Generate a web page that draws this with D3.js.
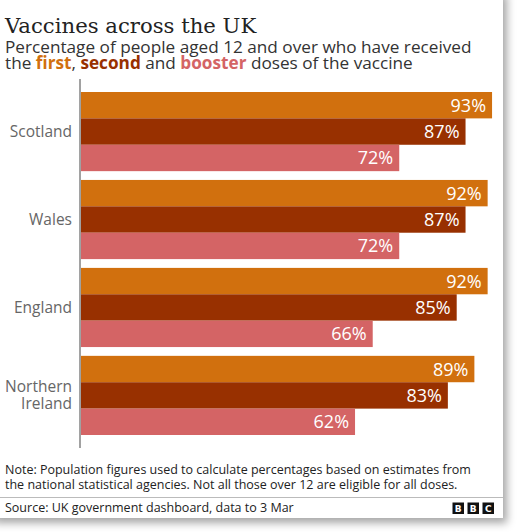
<!DOCTYPE html>
<html>
<head>
    <meta charset="utf-8">
    <script src="https://cdn.jsdelivr.net/npm/d3@7"></script>
    <style>
        * { margin: 0; padding: 0; }
        body { background: #fff; }
        svg { display: block; }
    </style>
</head>
<body>
    <svg id="chart" width="520" height="532"></svg>
    <script>
        var nations = ["Scotland", "Wales", "England", "Northern Ireland"];
        var doses = ["first", "second", "booster"];
        var firstDose = [93, 92, 92, 89];
        var secondDose = [87, 87, 85, 83];
        var boosterDose = [72, 72, 66, 62];
        var doseColors = ["#d1700e", "#983000", "#d46465"];

        var sans = "'Open Sans', 'Noto Sans', sans-serif";
        var svg = d3.select("#chart");

        // card with soft shadow on right / bottom
        var defs = svg.append("defs");
        var f = defs.append("filter").attr("id", "shadow")
            .attr("x", "-10%").attr("y", "-10%").attr("width", "130%").attr("height", "130%");
        f.append("feDropShadow").attr("dx", 4).attr("dy", 5)
            .attr("stdDeviation", 4).attr("flood-color", "#000").attr("flood-opacity", 0.35);

        svg.append("rect").attr("width", 520).attr("height", 532).attr("fill", "#fff");
        svg.append("rect").attr("x", -10).attr("y", -10).attr("width", 513).attr("height", 528)
            .attr("fill", "#fff").attr("filter", "url(#shadow)");

        // titles
        svg.append("text").attr("x", 5).attr("y", 33)
            .style("font-family", "'DejaVu Serif', serif").style("font-size", "21.2px")
            .attr("fill", "#222").text("Vaccines across the UK");

        svg.append("text").attr("x", 5).attr("y", 52.5)
            .style("font-family", sans).style("font-size", "17.2px").attr("fill", "#333")
            .text("Percentage of people aged 12 and over who have received");

        var sub2 = svg.append("text").attr("x", 5).attr("y", 69)
            .style("font-family", sans).style("font-size", "17.2px").attr("fill", "#333");
        sub2.append("tspan").text("the ");
        sub2.append("tspan").attr("fill", doseColors[0]).style("font-weight", "bold").text("first");
        sub2.append("tspan").text(", ");
        sub2.append("tspan").attr("fill", doseColors[1]).style("font-weight", "bold").text("second");
        sub2.append("tspan").text(" and ");
        sub2.append("tspan").attr("fill", doseColors[2]).style("font-weight", "bold").text("booster");
        sub2.append("tspan").text(" doses of the vaccine");

        // scales
        var x = d3.scaleLinear().domain([0, 100]).range([81, 523]);
        var y = d3.scaleBand().domain(nations).range([92, 435]).paddingInner(0.1).paddingOuter(0);
        var yInner = d3.scaleBand().domain(doses).range([0, y.bandwidth()]);

        var rows = nations.map(function (n, i) {
            return { nation: n, values: [firstDose[i], secondDose[i], boosterDose[i]] };
        });

        var g = svg.selectAll(".group").data(rows).enter().append("g")
            .attr("transform", function (d) { return "translate(0," + y(d.nation) + ")"; });

        var bars = g.selectAll(".bar").data(function (d) {
            return d.values.map(function (v, j) { return { dose: doses[j], value: v, color: doseColors[j] }; });
        }).enter();

        bars.append("rect")
            .attr("x", x(0))
            .attr("y", function (d) { return yInner(d.dose); })
            .attr("width", function (d) { return x(d.value) - x(0); })
            .attr("height", yInner.bandwidth())
            .attr("fill", function (d) { return d.color; });

        bars.append("text")
            .attr("x", function (d) { return x(d.value) - 6; })
            .attr("y", function (d) { return yInner(d.dose) + yInner.bandwidth() / 2 + 6.5; })
            .attr("text-anchor", "end")
            .style("font-family", sans).style("font-size", "18px")
            .attr("fill", "#fff")
            .text(function (d) { return d.value + "%"; });

        // category labels
        g.each(function (d) {
            var t = d3.select(this).append("text")
                .attr("x", 72).attr("text-anchor", "end")
                .style("font-family", sans).style("font-size", "15.5px").attr("fill", "#666");
            var words = d.nation == "Northern Ireland" ? ["Northern", "Ireland"] : [d.nation];
            var mid = y.bandwidth() / 2;
            words.forEach(function (w, k) {
                t.append("tspan").attr("x", 72)
                    .attr("y", mid + 5.5 + (k - (words.length - 1) / 2) * 17)
                    .text(w);
            });
        });

        // axis line
        svg.append("line").attr("x1", 80).attr("x2", 80).attr("y1", 79).attr("y2", 448)
            .attr("stroke", "#444").attr("stroke-width", 1);

        // note and source
        svg.append("text").attr("x", 5).attr("y", 474)
            .style("font-family", sans).style("font-size", "12.5px").attr("fill", "#222")
            .text("Note: Population figures used to calculate percentages based on estimates from");
        svg.append("text").attr("x", 5).attr("y", 489)
            .style("font-family", sans).style("font-size", "12.5px").attr("fill", "#222")
            .text("the national statistical agencies. Not all those over 12 are eligible for all doses.");

        svg.append("line").attr("x1", 0).attr("x2", 503).attr("y1", 497.5).attr("y2", 497.5)
            .attr("stroke", "#bbb").attr("stroke-width", 1);

        svg.append("text").attr("x", 5).attr("y", 512)
            .style("font-family", sans).style("font-size", "12.5px").attr("fill", "#222")
            .text("Source: UK government dashboard, data to 3 Mar");

        // BBC blocks
        ["B", "B", "C"].forEach(function (ch, i) {
            svg.append("rect").attr("x", 452.5 + i * 15).attr("y", 502.5)
                .attr("width", 11.5).attr("height", 11.5).attr("fill", "#111");
            svg.append("text").attr("x", 458.2 + i * 15).attr("y", 512)
                .attr("text-anchor", "middle")
                .style("font-family", "'DejaVu Sans', sans-serif").style("font-weight", "bold")
                .style("font-size", "9px").attr("fill", "#fff").text(ch);
        });
    </script>
</body>
</html>
